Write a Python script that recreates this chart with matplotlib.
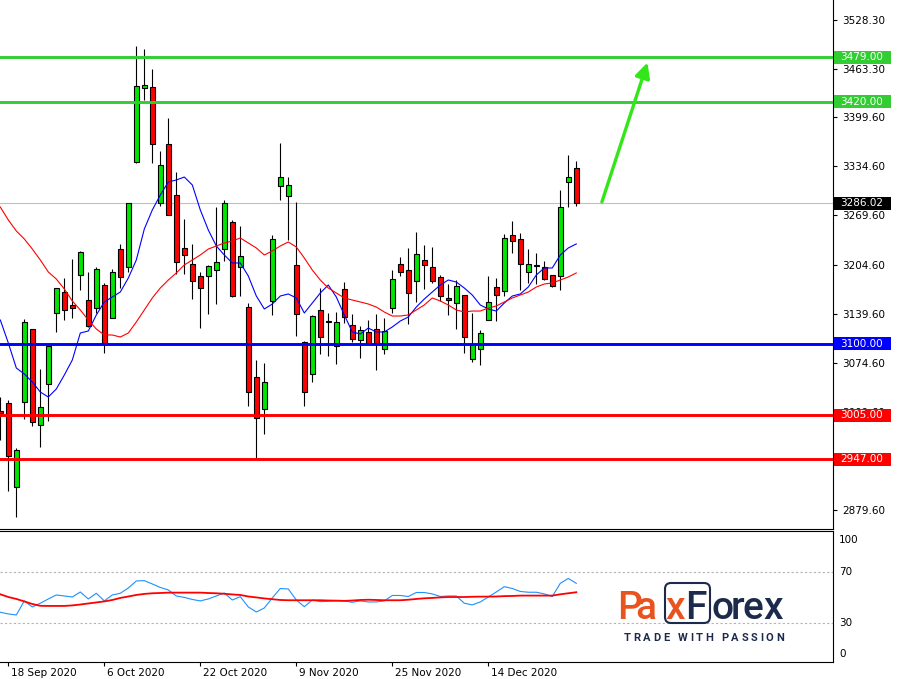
import matplotlib
matplotlib.use("Agg")
import matplotlib.pyplot as plt
import matplotlib.transforms as mtransforms
from matplotlib.patches import Rectangle, FancyBboxPatch
import numpy as np

# daily bars, first one is the bar just left of 18 Sep 2020
opens = [3010.7, 3021.3, 2910.0, 3022.6, 3119.2, 2992.1, 3046.4, 3140.4, 3168.2, 3151.0,
         3190.7, 3157.6, 3147.0, 3177.5, 3133.8, 3225.1, 3201.3, 3340.3, 3438.3, 3439.6,
         3286.0, 3364.1, 3296.6, 3226.5, 3205.3, 3189.4, 3189.4, 3197.3, 3225.1, 3260.9,
         3201.3, 3148.3, 3055.7, 3013.3, 3156.3, 3308.5, 3295.3, 3204.0, 3102.0, 3059.6,
         3144.4, 3129.8, 3096.7, 3172.2, 3124.5, 3104.7, 3115.3, 3119.2, 3092.7, 3147.0,
         3205.3, 3197.3, 3182.8, 3210.6, 3201.3, 3188.1, 3160.3, 3153.6, 3164.2, 3079.5,
         3092.7, 3131.1, 3174.8, 3169.5, 3243.7, 3238.4, 3194.7, 3204.0, 3201.3, 3190.7,
         3189.4, 3313.8, 3332.4]
highs = [3029.2, 3025.2, 2961.7, 3132.5, 3119.2, 3066.3, 3096.7, 3173.5, 3186.7, 3211.9,
         3222.5, 3194.7, 3201.3, 3180.1, 3198.7, 3231.8, 3286.0, 3493.9, 3489.9, 3463.4,
         3354.9, 3398.6, 3327.1, 3264.9, 3231.8, 3194.7, 3204.0, 3280.7, 3290.0, 3263.5,
         3255.6, 3153.6, 3078.2, 3074.2, 3243.7, 3365.5, 3320.4, 3287.4, 3103.3, 3137.8,
         3173.5, 3140.4, 3141.7, 3181.4, 3139.1, 3123.2, 3131.1, 3139.1, 3133.8, 3197.3,
         3214.5, 3226.5, 3247.6, 3230.4, 3227.8, 3190.7, 3178.8, 3184.1, 3164.2, 3140.4,
         3117.9, 3189.4, 3186.7, 3245.0, 3262.2, 3246.3, 3225.1, 3219.8, 3209.2, 3190.7,
         3303.2, 3349.6, 3341.6]
lows = [2972.3, 2904.8, 2870.3, 3000.1, 2990.8, 2963.0, 2997.4, 3115.3, 3131.1, 3133.8,
        3170.9, 3121.9, 3140.4, 3087.4, 3133.8, 3173.5, 3194.7, 3339.0, 3422.4, 3339.0,
        3282.1, 3270.1, 3192.0, 3192.0, 3158.9, 3120.5, 3139.1, 3152.3, 3209.2, 3161.6,
        3162.9, 3017.3, 2948.4, 2980.2, 3137.8, 3290.0, 3237.0, 3110.0, 3017.3, 3049.1,
        3086.1, 3083.5, 3072.9, 3127.2, 3102.0, 3080.8, 3100.7, 3064.9, 3086.1, 3140.4,
        3189.4, 3125.8, 3155.0, 3172.2, 3180.1, 3156.3, 3137.8, 3119.2, 3087.4, 3075.5,
        3071.6, 3131.1, 3129.8, 3162.9, 3219.8, 3170.9, 3180.1, 3178.8, 3184.1, 3174.8,
        3170.9, 3280.7, 3282.1]
closes = [3008.0, 2951.1, 2959.0, 3128.5, 2996.1, 3016.0, 3096.7, 3173.5, 3144.4, 3147.0,
          3221.2, 3123.2, 3198.7, 3100.7, 3194.7, 3188.1, 3286.0, 3440.9, 3442.3, 3364.1,
          3336.3, 3270.1, 3207.9, 3217.2, 3182.8, 3173.5, 3202.6, 3207.9, 3286.0, 3162.9,
          3215.9, 3035.8, 3001.4, 3049.1, 3238.4, 3320.4, 3309.9, 3139.1, 3035.8, 3136.4,
          3108.6, 3128.5, 3128.5, 3135.1, 3106.0, 3117.9, 3100.7, 3100.7, 3116.6, 3185.4,
          3194.7, 3166.9, 3218.5, 3204.0, 3182.8, 3162.9, 3157.6, 3176.1, 3108.6, 3098.0,
          3113.9, 3155.0, 3164.2, 3239.7, 3235.7, 3205.3, 3205.3, 3202.6, 3185.4, 3176.1,
          3280.7, 3320.4, 3286.02]

# moving averages as shown (blue fast, red slow)
ma_fast = [3131.1, 3100.7, 3067.6, 3059.6, 3049.1, 3035.8, 3029.2, 3039.8, 3058.3, 3078.2,
           3113.9, 3116.6, 3137.8, 3155.0, 3161.6, 3168.2, 3186.7, 3210.6, 3251.6, 3276.8,
           3296.6, 3313.8, 3316.5, 3320.4, 3309.9, 3276.8, 3250.3, 3229.1, 3217.2, 3206.6,
           3206.6, 3189.4, 3162.9, 3145.7, 3152.3, 3162.9, 3165.6, 3160.3, 3140.4, 3153.6,
           3166.9, 3177.5, 3161.6, 3137.8, 3115.3, 3112.6, 3120.5, 3115.3, 3115.3, 3121.9,
           3129.8, 3135.1, 3148.3, 3158.9, 3168.2, 3177.5, 3184.1, 3181.4, 3173.5, 3164.2,
           3151.0, 3145.7, 3143.0, 3153.6, 3162.9, 3165.6, 3174.8, 3190.7, 3200.0, 3200.0,
           3217.2, 3226.5, 3231.8]
ma_slow = [3280.7, 3263.5, 3249.0, 3238.4, 3225.1, 3210.6, 3194.7, 3185.4, 3172.2, 3156.3,
           3144.4, 3131.1, 3119.2, 3111.3, 3111.3, 3108.6, 3113.9, 3128.5, 3144.4, 3160.3,
           3173.5, 3184.1, 3193.4, 3204.0, 3210.6, 3217.2, 3225.1, 3229.1, 3233.1, 3235.7,
           3239.7, 3233.1, 3226.5, 3217.2, 3222.5, 3229.1, 3234.4, 3227.8, 3213.2, 3197.3,
           3184.1, 3173.5, 3166.9, 3160.3, 3157.6, 3155.0, 3152.3, 3148.3, 3141.7, 3136.4,
           3136.4, 3137.8, 3144.4, 3151.0, 3160.3, 3156.3, 3151.0, 3144.4, 3141.7, 3143.0,
           3143.0, 3147.0, 3149.7, 3155.0, 3160.3, 3164.2, 3168.2, 3174.8, 3178.8, 3180.1,
           3184.1, 3188.1, 3193.4]

# oscillator panel
rsi = [38.5, 37.2, 36.4, 47.3, 42.6, 45.5, 48.8, 51.9, 51.1, 50.3,
       54.2, 48.8, 53.2, 47.3, 51.9, 53.2, 57.3, 62.7, 63.0, 60.4,
       57.7, 55.8, 51.1, 50.0, 48.4, 47.3, 48.8, 51.1, 53.4, 48.0,
       50.6, 42.6, 38.7, 41.8, 49.6, 56.9, 56.5, 48.0, 42.8, 48.0,
       46.7, 47.0, 47.3, 47.3, 46.2, 47.3, 46.5, 46.5, 47.3, 51.5,
       51.5, 50.7, 53.8, 53.8, 52.7, 50.7, 51.1, 51.1, 45.5, 44.2,
       46.5, 50.3, 54.2, 58.3, 56.9, 54.6, 54.0, 54.0, 52.7, 50.7,
       60.9, 64.7, 60.9]
rsi_signal = [52.4, 50.3, 48.8, 46.9, 44.9, 43.5, 43.4, 43.4, 43.4, 43.8,
              44.5, 45.3, 46.1, 46.9, 48.0, 49.6, 50.7, 51.9, 52.7, 53.2,
              53.4, 53.7, 53.7, 53.7, 53.7, 53.7, 53.4, 53.2, 52.8, 52.3,
              51.9, 50.7, 50.0, 49.2, 48.6, 48.0, 47.8, 47.8, 47.8, 47.8,
              47.8, 47.6, 47.5, 47.3, 47.6, 48.0, 48.2, 48.0, 47.8, 47.8,
              47.8, 48.2, 48.8, 49.3, 49.6, 50.0, 50.3, 50.3, 50.3, 50.5,
              50.6, 50.6, 50.7, 51.0, 51.1, 51.4, 51.4, 51.4, 51.4, 51.4,
              52.4, 53.2, 54.0]

price_ticks = [3528.30, 3463.30, 3399.60, 3334.60, 3269.60, 3204.60,
               3139.60, 3074.60, 3009.60, 2944.60, 2879.60]
date_bars = [0, 12, 24, 36, 48, 60]
date_labels = ["18 Sep 2020", "6 Oct 2020", "22 Oct 2020", "9 Nov 2020", "25 Nov 2020", "14 Dec 2020"]
levels = [3479.00, 3420.00, 3100.00, 3005.00, 2947.00]
level_colors = ["#32cd32", "#32cd32", "#0000ff", "#ff0000", "#ff0000"]
last_price = 3286.02
rsi_lines = [70, 30]
rsi_labels = ["100", "70", "30", "0"]
rsi_label_pos = [94.4, 70, 30, 6]
arrow_from = (74.2, 3287.4)
arrow_to = (79.9, 3472.0)

W, H = 897, 679
fig = plt.figure(figsize=(W / 100, H / 100), dpi=100)
ident = mtransforms.IdentityTransform()

ax = fig.add_axes([0, 1 - 529 / H, 833 / W, 529 / H])
ax2 = fig.add_axes([0, 1 - 662 / H, 833 / W, 131 / H])

ytop, ybot = 3554.78, 2854.44
ax.set_ylim(ybot, ytop)
ax.set_xlim(-1.04, 103.09)
ax2.set_xlim(-1.04, 103.09)
ax2.set_ylim(0, 101.4)
pp = (ytop - ybot) / 529  # price per pixel

x = np.arange(len(opens)) - 1
o = np.array(opens)
c = np.array(closes)
up = c >= o

ax.vlines(x, lows, highs, color="black", lw=0.8, zorder=3)
ax.bar(x, np.abs(c - o), bottom=np.minimum(o, c), width=0.62,
       color=np.where(up, "#00e600", "#ff0000"), edgecolor="black", linewidth=0.8, zorder=4)
ax.plot(x, ma_fast, color="#0000ff", lw=0.8, zorder=5)
ax.plot(x, ma_slow, color="#ff0000", lw=0.8, zorder=5)

ax.axhline(last_price, color="#c0c0c0", lw=0.8, zorder=1)
for lv, col in zip(levels, level_colors):
    ax.axhline(lv, color=col, lw=2.1, zorder=6)

ax.annotate("", xy=arrow_to, xytext=arrow_from,
            arrowprops=dict(arrowstyle="-|>,head_length=0.9,head_width=0.45",
                            color="#33e619", lw=2.4, shrinkA=0, shrinkB=0), zorder=7)

# axes cosmetics
for a in (ax, ax2):
    a.spines["left"].set_visible(False)
    for s in ("right", "bottom", "top"):
        a.spines[s].set_linewidth(0.8)
ax.spines["top"].set_visible(False)
ax.set_xticks([])
ax.yaxis.tick_right()
ax.set_yticks(price_ticks)
ax.set_yticklabels([f"{v:.2f}" for v in price_ticks])
ax.tick_params(axis="y", direction="out", length=3, width=0.8, pad=3.5, labelsize=7.5)

ax2.set_yticks([])
ax2.set_xticks(date_bars)
ax2.set_xticklabels([])
ax2.tick_params(axis="x", direction="out", length=3, width=0.8)

# label boxes on the price scale
bt = mtransforms.blended_transform_factory(ax.transAxes, ax.transData)
boxes = list(zip(levels, level_colors)) + [(last_price, "black")]
for lv, col in boxes:
    ax.add_patch(Rectangle((1 + 1 / 833, lv - 6.5 * pp), 57 / 833, 13 * pp, transform=bt,
                           facecolor=col, edgecolor="none", clip_on=False, zorder=8))
    ax.text(1 + 7 / 833, lv, f"{lv:.2f}", transform=bt, color="white", fontsize=7.5,
            ha="left", va="center", zorder=9, clip_on=False)

# oscillator
ax2.plot(x, rsi, color="#1e90ff", lw=0.8)
ax2.plot(x, rsi_signal, color="#ff0000", lw=1.3)
for lv in rsi_lines:
    ax2.axhline(lv, color="#b4b4b4", lw=0.8, ls=(0, (2, 2)))
bt2 = mtransforms.blended_transform_factory(ax2.transAxes, ax2.transData)
for lbl, pos in zip(rsi_labels, rsi_label_pos):
    ax2.text(1 + 6 / 833, pos, lbl, transform=bt2, fontsize=7.5, ha="left", va="center")

dt = mtransforms.offset_copy(mtransforms.blended_transform_factory(ax2.transData, ax2.transAxes),
                             fig=fig, x=3, y=-11, units="dots")
for b, lbl in zip(date_bars, date_labels):
    ax2.text(b, 0, lbl, transform=dt, fontsize=7.5, ha="left", va="center")

# PaxForex logo
navy = "#1c2b4b"
orange = "#e8531f"
logo = [("P", 630, orange), ("a", 646, orange), ("x", 675, orange), ("F", 696, navy),
        ("o", 722.5, navy), ("r", 737.5, navy), ("e", 752.5, navy), ("x", 773, navy)]
for ch, cx, col in logo:
    fig.text(cx, H - 619, ch, transform=ident, ha="center", va="baseline", fontsize=28,
             family="Roboto", weight="medium", color=col)
fig.add_artist(FancyBboxPatch((665, H - 623), 45, 40, boxstyle="round,pad=0,rounding_size=6",
                              transform=ident, facecolor="none", edgecolor=navy, lw=1.5))

renderer = fig.canvas.get_renderer()
tag = "TRADE WITH PASSION"
kw = dict(fontsize=8, family="Roboto", weight="bold", color=navy)
widths = []
for ch in tag:
    if ch == " ":
        widths.append(3.0)
    else:
        t = fig.text(0, 0, ch, transform=ident, **kw)
        widths.append(t.get_window_extent(renderer).width)
        t.remove()
track = (784 - 624 - sum(widths)) / (len(tag) - 1)
cur = 624
for ch, w in zip(tag, widths):
    if ch != " ":
        fig.text(cur, H - 641, ch, transform=ident, ha="left", va="baseline", **kw)
    cur += w + track

fig.savefig("out.png", dpi=100, facecolor="white")
